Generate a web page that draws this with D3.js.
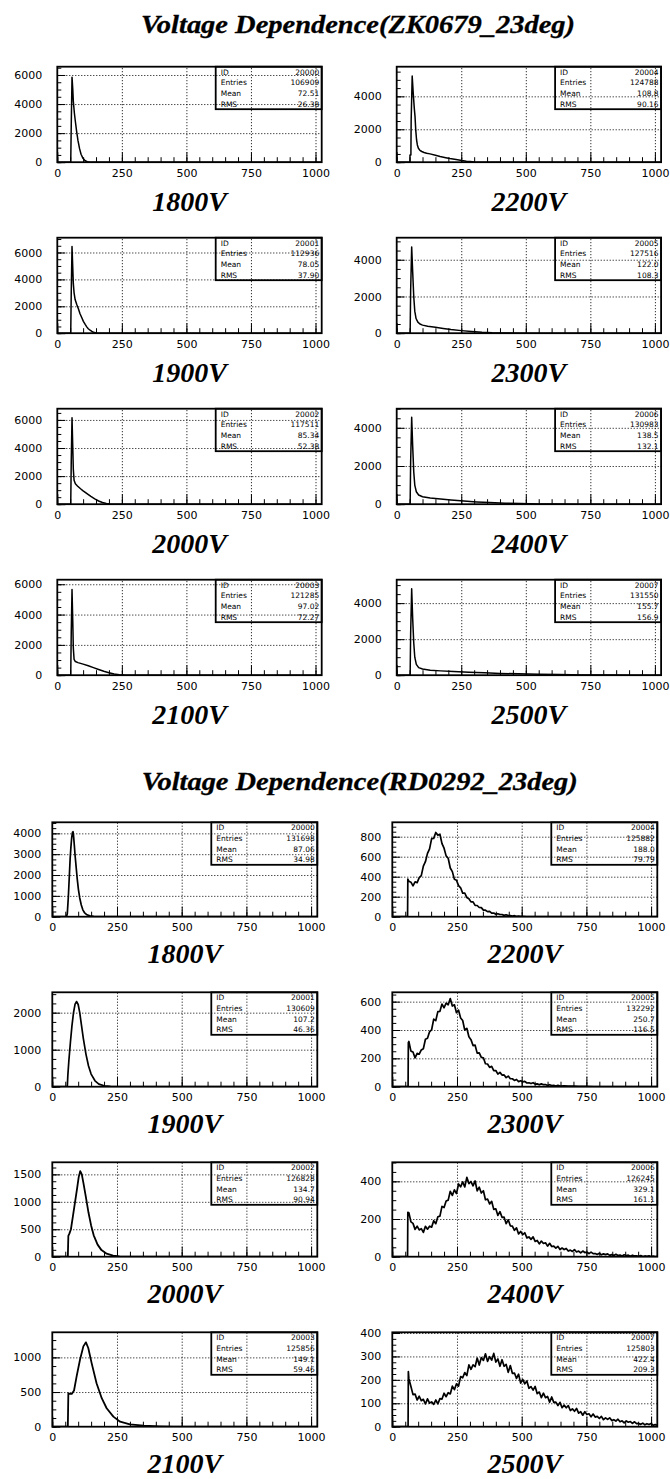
<!DOCTYPE html>
<html><head><meta charset="utf-8">
<script src="https://cdn.jsdelivr.net/npm/d3@7"></script>
<style>body{margin:0;background:#fff}</style>
</head><body>
<script>
// ---------- text ----------
const sectionTitles = ["Voltage Dependence(ZK0679_23deg)", "Voltage Dependence(RD0292_23deg)"];
const voltages = ["1800V","1900V","2000V","2100V","2200V","2300V","2400V","2500V"];
const xTicks = [0, 250, 500, 750, 1000];
const xGrid = [250, 500, 750, 1000];
const statNames = ["ID", "Entries", "Mean", "RMS"];
const histIds = ["20000","20001","20002","20003","20004","20005","20006","20007"];

// ---------- ZK0679 statistics ----------
const zkEntries = ["106909","112936","117511","121285","124788","127516","130983","131550"];
const zkMean    = ["72.51","78.05","85.34","97.02","108.8","122.0","138.5","155.7"];
const zkRms     = ["26.38","37.90","52.38","72.27","90.16","108.3","132.1","156.9"];
const zkYMax    = [6570, 7100, 6800, 6300, 5800, 5200, 5000, 5300];
const zkYStep   = [2000, 2000, 2000, 2000, 2000, 2000, 2000, 2000];

// ---------- RD0292 statistics ----------
const rdEntries = ["131698","130609","126828","125856","125882","132292","126245","125803"];
const rdMean    = ["87.06","107.2","134.7","149.1","188.0","250.7","329.1","422.4"];
const rdRms     = ["34.98","46.36","90.94","59.46","79.79","116.5","161.1","209.3"];
const rdYMax    = [4530, 2550, 1720, 1362, 944, 666, 501, 403];
const rdYStep   = [1000, 1000, 500, 500, 200, 200, 200, 100];

// ---------- ZK0679 spectra: [channel, counts] ----------
const zk1800 = [[0,0],[52,0],[54,2500],[57,5850],[60,5000],[62,4200],[66,3400],[70,2800],[75,2100],[80,1500],[86,950],[92,550],[100,250],[108,100],[116,30],[125,0],[1024,0]];
const zk1900 = [[0,0],[52,0],[54,3000],[57,6450],[60,4800],[62,3700],[65,3000],[69,2500],[75,2150],[82,1800],[88,1450],[95,1150],[101,880],[108,650],[114,470],[120,330],[127,220],[134,130],[140,70],[152,20],[165,0],[1024,0]];
const zk2000 = [[0,0],[52,0],[54,3000],[57,6150],[60,4000],[62,2500],[65,1700],[70,1450],[78,1300],[90,1100],[100,950],[115,750],[130,550],[145,380],[160,230],[175,120],[190,50],[205,15],[220,0],[1024,0]];
const zk2100 = [[0,0],[52,0],[54,2800],[57,5650],[60,3500],[62,1800],[65,1050],[70,900],[80,830],[100,730],[120,620],[140,500],[160,380],[180,260],[200,160],[220,80],[240,30],[260,8],[280,0],[1024,0]];
const zk2200 = [[0,0],[51,0],[51.5,440],[55,440],[56,2500],[60,5230],[64,4200],[68,3300],[71,2770],[74,1900],[77,1350],[80,1050],[84,850],[90,720],[97,650],[106,590],[116,545],[129,505],[150,420],[168,343],[190,270],[206,222],[230,160],[252,100],[270,60],[284,40],[300,15],[320,0],[1024,0]];
const zk2300 = [[0,0],[52,0],[54,2300],[58,4700],[62,3300],[66,2000],[70,1200],[75,800],[82,600],[90,500],[100,440],[120,380],[150,320],[180,260],[210,200],[250,140],[290,90],[330,50],[370,25],[420,10],[480,0],[1024,0]];
const zk2400 = [[0,0],[52,0],[54,2200],[58,4550],[62,3000],[66,1700],[70,1000],[76,650],[85,480],[100,390],[130,320],[170,270],[210,220],[260,170],[310,120],[360,85],[420,55],[480,32],[550,16],[620,8],[700,0],[1024,0]];
const zk2500 = [[0,0],[52,0],[54,2300],[58,4800],[62,3100],[66,1800],[70,1000],[76,600],[85,420],[100,340],[130,280],[170,240],[220,200],[280,165],[340,130],[400,100],[470,75],[550,50],[630,32],[720,18],[820,9],[920,4],[1024,2]];

// ---------- RD0292 spectra: [channel, counts] ----------
const rd1800 = [[0,0],[55,0],[58,150],[62,960],[66,2000],[69,2800],[72,3350],[75,3800],[78,4050],[80,4080],[82,3900],[85,3450],[88,2950],[92,2400],[96,1850],[101,1300],[106,900],[112,560],[118,330],[124,200],[134,90],[145,40],[160,12],[180,0],[1024,0]];
const rd1900 = [[0,0],[58,0],[60,300],[64,700],[70,1200],[76,1650],[82,2000],[88,2230],[94,2300],[100,2220],[106,2000],[112,1700],[120,1300],[130,880],[140,560],[150,340],[165,160],[180,70],[200,25],[225,8],[250,0],[1024,0]];
const rd2000 = [[0,0],[60,0],[62,380],[66,420],[72,500],[80,750],[88,1000],[96,1250],[102,1450],[108,1560],[114,1500],[120,1350],[130,1080],[140,800],[150,570],[160,390],[175,220],[190,120],[210,55],[235,20],[260,6],[290,0],[1024,0]];
const rd2100 = [[0,0],[60,0],[62,483],[68,475],[75,473],[84,522],[94,725],[107,966],[120,1159],[130,1217],[139,1135],[152,918],[171,628],[191,411],[210,266],[236,145],[262,72],[300,34],[352,15],[416,5],[470,0],[1024,0]];
const rd2200 = [[0,0],[59,0],[60,377],[64,354],[72,345],[80,309],[88,349],[96,341],[104,390],[112,411],[120,506],[128,550],[136,633],[144,679],[152,780],[160,783],[168,842],[176,816],[184,825],[192,731],[200,685],[208,608],[216,584],[224,487],[232,451],[240,375],[248,365],[256,311],[264,289],[272,236],[280,237],[288,191],[296,179],[304,148],[312,148],[320,113],[328,112],[336,92],[344,91],[352,66],[360,65],[368,51],[376,54],[384,36],[392,36],[400,24],[408,30],[416,22],[424,22],[432,13],[440,19],[448,11],[456,12],[464,6],[472,10],[480,3],[488,6],[496,3],[504,4],[520,1],[540,2],[580,0],[1024,0]];
const rd2300 = [[0,0],[61,0],[62,311],[64,319],[72,251],[80,245],[88,203],[96,235],[104,229],[112,259],[120,268],[128,335],[136,342],[144,387],[152,402],[160,477],[168,466],[176,530],[184,532],[192,583],[200,557],[208,590],[216,578],[224,622],[232,569],[240,578],[248,522],[256,540],[264,485],[272,467],[280,399],[288,412],[296,352],[304,332],[312,290],[320,293],[328,237],[336,239],[344,207],[352,204],[360,162],[368,160],[376,136],[384,144],[392,113],[400,114],[408,89],[416,101],[424,82],[432,83],[440,64],[448,75],[456,56],[464,56],[472,44],[480,51],[488,36],[496,42],[504,34],[512,38],[520,26],[528,28],[536,22],[544,28],[552,18],[560,20],[568,13],[576,20],[584,14],[592,15],[600,9],[608,14],[616,8],[624,9],[632,5],[640,10],[648,4],[664,6],[680,4],[700,5],[720,2],[750,3],[780,1],[820,1],[880,0],[1024,0]];
const rd2400 = [[0,0],[59,0],[60,235],[64,233],[72,185],[80,177],[88,145],[96,162],[104,142],[112,149],[120,129],[128,161],[136,146],[144,162],[152,157],[160,191],[168,175],[176,212],[184,215],[192,267],[200,261],[208,296],[216,300],[224,347],[232,325],[240,355],[248,335],[256,386],[264,371],[272,397],[280,370],[288,421],[296,388],[304,399],[312,376],[320,402],[328,349],[336,369],[344,338],[352,350],[360,302],[368,306],[376,280],[384,294],[392,251],[400,254],[408,219],[416,239],[424,209],[432,210],[440,175],[448,196],[456,164],[464,162],[472,140],[480,153],[488,121],[496,134],[504,117],[512,127],[520,100],[528,105],[536,92],[544,105],[552,81],[560,86],[568,68],[576,83],[584,70],[592,74],[600,56],[608,71],[616,54],[624,56],[632,45],[640,55],[648,38],[656,46],[664,38],[672,44],[680,30],[688,35],[696,28],[704,38],[712,25],[720,30],[728,20],[736,30],[744,22],[752,25],[760,16],[768,24],[776,16],[784,17],[792,12],[800,18],[808,10],[816,15],[824,11],[832,15],[840,7],[848,11],[856,7],[864,13],[872,6],[880,9],[888,4],[896,10],[904,6],[912,8],[920,2],[928,8],[936,4],[944,4],[952,2],[960,6],[968,1],[976,4],[984,2],[992,5],[1000,1],[1008,3],[1016,1],[1024,2]];
const rd2500 = [[0,0],[61,0],[62,235],[64,205],[72,172],[80,137],[88,139],[96,114],[104,130],[112,111],[120,117],[128,97],[136,119],[144,101],[152,106],[160,95],[168,114],[176,97],[184,120],[192,118],[200,143],[208,128],[216,145],[224,140],[232,173],[240,158],[248,183],[256,173],[264,214],[272,209],[280,231],[288,218],[296,264],[304,245],[312,264],[320,256],[328,293],[336,263],[344,295],[352,283],[360,311],[368,279],[376,299],[384,284],[392,313],[400,276],[408,289],[416,258],[424,286],[432,258],[440,266],[448,232],[456,261],[464,228],[472,229],[480,206],[488,224],[496,186],[504,202],[512,183],[520,195],[528,164],[536,171],[544,156],[552,172],[560,141],[568,148],[576,124],[584,143],[592,124],[600,129],[608,105],[616,127],[624,104],[632,105],[640,90],[648,104],[656,81],[664,92],[672,81],[680,90],[688,69],[696,76],[704,66],[712,78],[720,58],[728,64],[736,49],[744,64],[752,52],[760,55],[768,42],[776,54],[784,41],[792,44],[800,35],[808,44],[816,30],[824,38],[832,31],[840,38],[848,26],[856,30],[864,24],[872,32],[880,21],[888,25],[896,16],[904,25],[912,19],[920,22],[928,14],[936,21],[944,13],[952,14],[960,10],[968,15],[976,8],[984,13],[992,9],[1000,14],[1008,6],[1016,9],[1024,6]];

// ---------- page layout ----------
const svg = d3.select("body").append("svg")
  .attr("width", 670).attr("height", 1479).style("display", "block");
svg.append("rect").attr("width", 670).attr("height", 1479).attr("fill", "#fff");

const sections = [
  { title: sectionTitles[0], titleX: 141, titleY: 33, titleW: 434,
    colX: [57.3, 396.7], w: 264.4, top: 66.7, h: 95.5, pitch: 171, labelGap: 15, capOffset: 49,
    hists: [zk1800, zk1900, zk2000, zk2100, zk2200, zk2300, zk2400, zk2500],
    lineW: [1.5, 1.5, 1.5, 1.5, 1.5, 1.5, 1.5, 1.5],
    ymax: zkYMax, ystep: zkYStep, entries: zkEntries, mean: zkMean, rms: zkRms },
  { title: sectionTitles[1], titleX: 141.7, titleY: 790, titleW: 436,
    colX: [52.3, 392.3], w: 265, top: 822.3, h: 94.4, pitch: 170, labelGap: 11, capOffset: 46,
    hists: [rd1800, rd1900, rd2000, rd2100, rd2200, rd2300, rd2400, rd2500],
    lineW: [1.7, 1.7, 1.8, 1.8, 1.7, 1.7, 1.7, 1.7],
    ymax: rdYMax, ystep: rdYStep, entries: rdEntries, mean: rdMean, rms: rdRms }
];

const serif = "'Liberation Serif','Times New Roman',serif";
const sans = "'DejaVu Sans',sans-serif";
let clipN = 0;

function styleAxis(sel, fontSize) {
  sel.select(".domain").remove();
  sel.attr("font-family", sans).attr("font-size", fontSize);
  sel.selectAll("line").attr("stroke", "#000").attr("stroke-width", 1);
  sel.selectAll("text").attr("fill", "#000");
}

function drawPanel(sec, i) {
  const col = i < 4 ? 0 : 1, row = i % 4;
  const x0 = sec.colX[col], y0 = sec.top + row * sec.pitch, w = sec.w, h = sec.h;
  const ymax = sec.ymax[i], step = sec.ystep[i];
  const x = d3.scaleLinear().domain([0, 1024]).range([x0, x0 + w]);
  const y = d3.scaleLinear().domain([0, ymax]).range([y0 + h, y0]);
  const g = svg.append("g");

  const majors = d3.range(0, ymax + 1e-6, step);
  const minors = d3.range(0, ymax + 1e-6, step / 4);

  // spectrum
  const id = "clip" + (clipN++);
  g.append("clipPath").attr("id", id).append("rect")
    .attr("x", x0).attr("y", y0).attr("width", w).attr("height", h);
  g.append("path").datum(sec.hists[i])
    .attr("clip-path", `url(#${id})`)
    .attr("fill", "none").attr("stroke", "#000").attr("stroke-width", sec.lineW[i])
    .attr("stroke-linejoin", "round")
    .attr("d", d3.line().x(d => x(d[0])).y(d => y(d[1])));

  // statistics box
  const bw = 106, bh = 42.5, bx = x0 + w - bw, by = y0;
  const sb = g.append("g");
  sb.append("rect").attr("x", bx).attr("y", by).attr("width", bw).attr("height", bh)
    .attr("fill", "#fff").attr("stroke", "#000").attr("stroke-width", 1.8);
  const vals = [histIds[i], sec.entries[i], sec.mean[i], sec.rms[i]];
  statNames.forEach((n, k) => {
    const ty = by + 7.9 + k * 10.75;
    sb.append("text").attr("x", bx + 5).attr("y", ty).text(n)
      .attr("font-family", sans).attr("font-size", 7.5);
    sb.append("text").attr("x", bx + bw - 2.5).attr("y", ty).text(vals[k])
      .attr("text-anchor", "end").attr("font-family", sans).attr("font-size", 7.5);
  });

  // dotted grid, drawn over the box
  g.append("g").attr("transform", `translate(${x0},0)`)
    .call(d3.axisLeft(y).tickValues(majors.filter(v => v > 0)).tickSize(-w).tickFormat(""))
    .call(s => { styleAxis(s, 10); s.selectAll("line").attr("stroke-dasharray", "1,2"); });
  g.append("g").attr("transform", `translate(0,${y0 + h})`)
    .call(d3.axisBottom(x).tickValues(xGrid).tickSize(-h).tickFormat(""))
    .call(s => { styleAxis(s, 10); s.selectAll("line").attr("stroke-dasharray", "1,2"); });

  // ticks and labels
  g.append("g").attr("transform", `translate(${x0},0)`)
    .call(d3.axisLeft(y).tickValues(minors).tickSize(-4).tickFormat(""))
    .call(s => styleAxis(s, 10));
  g.append("g").attr("transform", `translate(${x0},0)`)
    .call(d3.axisLeft(y).tickValues(majors).tickSize(-8).tickPadding(sec.labelGap).tickFormat(d3.format("d")))
    .call(s => styleAxis(s, 11));
  g.append("g").attr("transform", `translate(0,${y0 + h})`)
    .call(d3.axisBottom(x).tickValues(d3.range(0, 1024, 50)).tickSize(-5).tickFormat(""))
    .call(s => styleAxis(s, 10));
  g.append("g").attr("transform", `translate(0,${y0 + h})`)
    .call(d3.axisBottom(x).tickValues(xTicks).tickSize(-10).tickPadding(7).tickFormat(d3.format("d")))
    .call(s => styleAxis(s, 11));

  // frame
  g.append("rect").attr("x", x0).attr("y", y0).attr("width", w).attr("height", h)
    .attr("fill", "none").attr("stroke", "#000").attr("stroke-width", 1.8);

  // voltage caption
  g.append("text").attr("x", x0 + w / 2).attr("y", y0 + h + sec.capOffset)
    .attr("text-anchor", "middle").attr("font-family", serif)
    .attr("font-weight", "bold").attr("font-style", "italic").attr("font-size", 28)
    .text(voltages[i]);
}

sections.forEach(sec => {
  svg.append("text").attr("x", sec.titleX).attr("y", sec.titleY)
    .attr("font-family", serif).attr("font-weight", "bold").attr("font-style", "italic")
    .attr("font-size", 25).attr("textLength", sec.titleW).attr("lengthAdjust", "spacingAndGlyphs")
    .attr("stroke", "#000").attr("stroke-width", 0.3)
    .text(sec.title);
  d3.range(8).forEach(i => drawPanel(sec, i));
});
</script>
</body></html>
